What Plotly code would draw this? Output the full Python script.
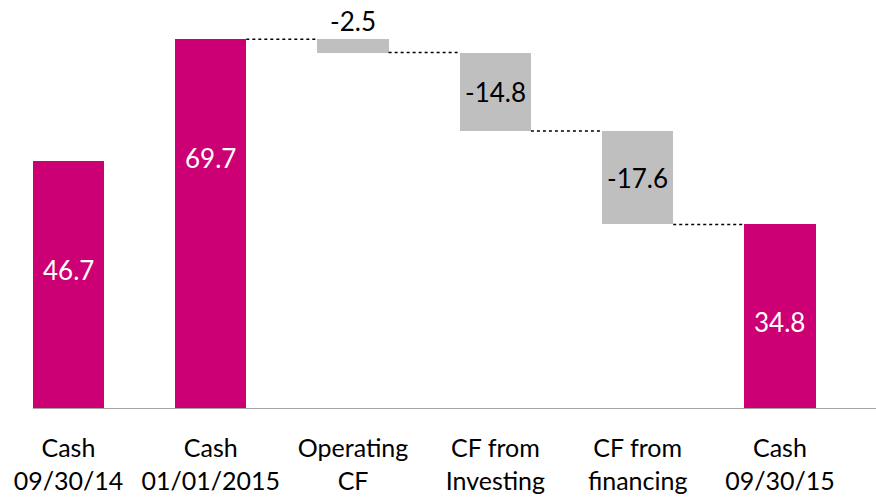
import plotly.graph_objects as go

categories = ["Cash<br>09/30/14", "Cash<br>01/01/2015", "Operating<br>CF",
              "CF from<br>Investing", "CF from<br>financing", "Cash<br>09/30/15"]
cash_start = 46.7
cash_open = 69.7
changes = [-2.5, -14.8, -17.6]
cash_end = 34.8

PINK = "#CC0074"
GRAY = "#BFBFBF"
FONT = "Lato"

# build waterfall geometry from the data
bases, heights, colors, labels = [], [], [], []
bases.append(0); heights.append(cash_start); colors.append(PINK); labels.append(cash_start)
bases.append(0); heights.append(cash_open); colors.append(PINK); labels.append(cash_open)
level = cash_open
levels = [cash_open]
for c in changes:
    bases.append(level + c); heights.append(-c); colors.append(GRAY); labels.append(c)
    level += c
    levels.append(level)
bases.append(0); heights.append(cash_end); colors.append(PINK); labels.append(cash_end)

x = list(range(len(categories)))
fig = go.Figure()
fig.add_trace(go.Bar(x=x, y=heights, base=bases, marker=dict(color=colors, line=dict(width=0)),
                     width=0.5, hoverinfo="skip"))

# label placement (fraction of bar height for totals)
total_frac = {0: 0.56, 1: 0.68, 5: 0.47}
for i in x:
    if i in total_frac:
        yv = bases[i] + heights[i] * total_frac[i]
        fig.add_annotation(x=i, y=yv, text=f"{labels[i]:.1f}", showarrow=False,
                           font=dict(color="white", size=26, family=FONT))
    elif i == 2:
        fig.add_annotation(x=i, y=bases[i] + heights[i], text=f"{labels[i]:.1f}", showarrow=False,
                           yanchor="bottom", yshift=0, font=dict(color="black", size=26, family=FONT))
    else:
        fig.add_annotation(x=i, y=bases[i] + heights[i] / 2, text=f"{labels[i]:.1f}", showarrow=False,
                           font=dict(color="black", size=26, family=FONT))

# connectors
for k, lv in enumerate(levels):
    i = k + 1
    fig.add_shape(type="line", x0=i + 0.25, x1=i + 0.75, y0=lv, y1=lv,
                  line=dict(color="black", width=1.5, dash="3px,3px"))

# baseline axis line
fig.add_shape(type="line", xref="x", yref="y", x0=-0.25, x1=5.68, y0=0, y1=0,
              line=dict(color="#A6A6A6", width=2))

fig.update_layout(
    width=876, height=498,
    margin=dict(l=0, r=0, t=0, b=88.5),
    plot_bgcolor="white", paper_bgcolor="white",
    showlegend=False, bargap=0,
    font=dict(family=FONT, size=25, color="black"),
    xaxis=dict(range=[-0.481, 5.675], tickmode="array", tickvals=x, ticktext=categories,
               showgrid=False, zeroline=False, showline=False, ticks="",
               ticklabelstandoff=22,
               tickfont=dict(size=25, family=FONT, color="black"), fixedrange=True),
    yaxis=dict(range=[0, 77.1], visible=False, fixedrange=True),
)
fig.write_html("out.html")
